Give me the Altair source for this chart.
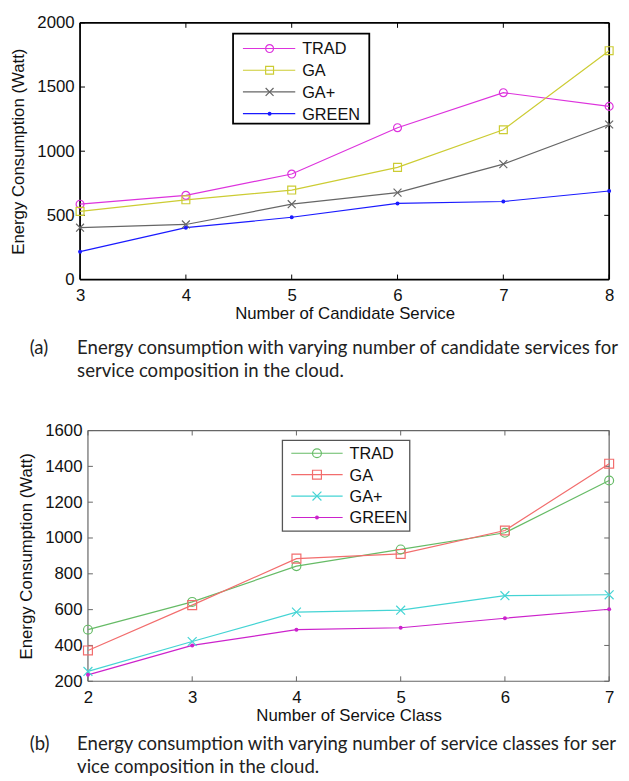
import altair as alt
import pandas as pd

series = ["TRAD", "GA", "GA+", "GREEN"]

# Panel (a): energy vs number of candidate services
a_x = [3, 4, 5, 6, 7, 8]
a_trad = [587, 656, 822, 1183, 1456, 1349]
a_ga = [531, 621, 697, 874, 1167, 1783]
a_gap = [404, 429, 587, 677, 899, 1208]
a_green = [217, 404, 485, 593, 608, 690]
a_yticks = [0, 500, 1000, 1500, 2000]

# Panel (b): energy vs number of service classes
b_x = [2, 3, 4, 5, 6, 7]
b_trad = [488, 643, 843, 936, 1029, 1321]
b_ga = [372, 625, 885, 911, 1042, 1415]
b_gap = [255, 422, 586, 597, 678, 683]
b_green = [236, 400, 488, 499, 552, 602]
b_yticks = [200, 400, 600, 800, 1000, 1200, 1400, 1600]

a_caption = ["Energy consumption with varying number of candidate services for",
             "service composition in the cloud."]
b_caption = ["Energy consumption with varying number of service classes for ser",
             "vice composition in the cloud."]

XPATH = "M-1,-1L1,1M-1,1L1,-1"
AXFONT = "Liberation Sans"
CAPFONT = "Lato"
AXSIZE = 17
CAPSIZE = 18.8


def one():
    return pd.DataFrame({"k": [0]})


def panel(xs, ys, colors, frame, fw, xdom, ydom, yticks, W, H, x0, xtitle,
          leg, tag, caption, cap, msize, lpad):
    rows = []
    for s, vals in zip(series, ys):
        for x, v in zip(xs, vals):
            rows.append({"series": s, "x": x, "y": v})
    df = pd.DataFrame(rows)

    X = alt.X("x:Q", scale=alt.Scale(domain=xdom, nice=False, zero=False, range=[x0, W]),
              axis=alt.Axis(values=xs, title=xtitle, format="d", labelFlush=False,
                            labelPadding=lpad, titlePadding=2))
    Y = alt.Y("y:Q", scale=alt.Scale(domain=ydom, nice=False, zero=False),
              axis=alt.Axis(values=yticks, title="Energy Consumption (Watt)",
                            format="d", labelPadding=6, labelFlush=False, offset=-x0,
                            titleX=-62, titleY=H / 2, titleAngle=270,
                            titleBaseline="middle", titleAlign="center"))
    color = alt.Color("series:N", scale=alt.Scale(domain=series, range=colors),
                      legend=None)

    layers = []
    # frame
    fr = dict(color=frame, strokeWidth=fw)
    layers.append(alt.Chart(one()).mark_rule(**fr).encode(
        x=alt.value(x0), x2=alt.value(W), y=alt.value(0)))
    layers.append(alt.Chart(one()).mark_rule(**fr).encode(
        x=alt.value(x0), x2=alt.value(W), y=alt.value(H)))
    layers.append(alt.Chart(one()).mark_rule(**fr).encode(
        x=alt.value(x0), y=alt.value(0), y2=alt.value(H)))
    layers.append(alt.Chart(one()).mark_rule(**fr).encode(
        x=alt.value(W), y=alt.value(0), y2=alt.value(H)))

    # inward ticks
    tx = pd.DataFrame({"x": xs})
    ty = pd.DataFrame({"y": yticks})
    layers.append(alt.Chart(tx).mark_rule(color=frame, strokeWidth=1).encode(
        x=X, y=alt.value(H), y2=alt.value(H - 5)))
    layers.append(alt.Chart(tx).mark_rule(color=frame, strokeWidth=1).encode(
        x=X, y=alt.value(0), y2=alt.value(5)))
    layers.append(alt.Chart(ty).mark_rule(color=frame, strokeWidth=1).encode(
        y=Y, x=alt.value(x0), x2=alt.value(x0 + 5)))
    layers.append(alt.Chart(ty).mark_rule(color=frame, strokeWidth=1).encode(
        y=Y, x=alt.value(W), x2=alt.value(W - 5)))

    # data
    layers.append(alt.Chart(df).mark_line(strokeWidth=1.2).encode(
        x=X, y=Y, color=color, detail="series:N"))
    layers.append(alt.Chart(df).transform_filter(alt.datum.series != "GREEN")
                  .mark_point(filled=False, strokeWidth=1.2, size=msize, opacity=1)
                  .encode(x=X, y=Y, color=color,
                          shape=alt.Shape("series:N",
                                          scale=alt.Scale(domain=["TRAD", "GA", "GA+"],
                                                          range=["circle", "square", XPATH]),
                                          legend=None)))
    layers.append(alt.Chart(df).transform_filter(alt.datum.series == "GREEN")
                  .mark_point(filled=True, size=16, shape="circle", opacity=1)
                  .encode(x=X, y=Y, color=color))

    # legend box
    bx1, bx2, by1, by2, ly0, ldy, lx1, lx2, mx, tx0, bstroke, bw = leg
    layers.append(alt.Chart(one()).mark_rect(fill="white", stroke=bstroke,
                                             strokeWidth=bw).encode(
        x=alt.value(bx1), x2=alt.value(bx2), y=alt.value(by1), y2=alt.value(by2)))
    shapes = ["circle", "square", XPATH, "circle"]
    for i, s in enumerate(series):
        yy = ly0 + i * ldy
        layers.append(alt.Chart(one()).mark_rule(strokeWidth=1.2, color=colors[i]).encode(
            x=alt.value(lx1), x2=alt.value(lx2), y=alt.value(yy)))
        if s == "GREEN":
            layers.append(alt.Chart(one()).mark_point(filled=True, size=16, shape="circle",
                                                      color=colors[i], opacity=1).encode(
                x=alt.value(mx), y=alt.value(yy)))
        else:
            layers.append(alt.Chart(one()).mark_point(filled=False, size=msize,
                                                      shape=shapes[i], strokeWidth=1.2,
                                                      color=colors[i], opacity=1).encode(
                x=alt.value(mx), y=alt.value(yy)))
        layers.append(alt.Chart(one()).mark_text(align="left", baseline="middle",
                                                 font=AXFONT, fontSize=16.5,
                                                 color="#111").encode(
            x=alt.value(tx0), y=alt.value(yy + 1), text=alt.value(s)))

    # caption
    tagx, capx, cy1, cy2, lim = cap
    layers.append(alt.Chart(one()).mark_text(align="left", baseline="alphabetic",
                                             font=CAPFONT, fontSize=CAPSIZE,
                                             color="#222").encode(
        x=alt.value(tagx), y=alt.value(cy1), text=alt.value(tag)))
    for cyy, line in zip([cy1, cy2], caption):
        layers.append(alt.Chart(one()).mark_text(align="left", baseline="alphabetic",
                                                 font=CAPFONT, fontSize=CAPSIZE,
                                                 color="#222", limit=lim,
                                                 ellipsis=" ").encode(
            x=alt.value(capx), y=alt.value(cyy), text=alt.value(line)))

    return alt.layer(*layers).properties(
        width=W, height=H, view=alt.ViewBackground(stroke="transparent"))


pa = panel(a_x, [a_trad, a_ga, a_gap, a_green],
           ["#dd33dd", "#cccc33", "#666666", "#1a1aff"], "#000000", 1.8,
           [3, 8], [0, 2000], a_yticks, 536, 260, 0, "Number of Candidate Service",
           (155, 293, 11, 102, 26, 22, 165, 218, 192, 225, "#000000", 1.8),
           "(a)", a_caption, (-51, -3, 335, 359, 550), 64, 8)

pb = panel(b_x, [b_trad, b_ga, b_gap, b_green],
           ["#66bb66", "#f26d6d", "#44d4d4", "#cc22cc"], "#666666", 1.2,
           [2, 7], [200, 1600], b_yticks, 536, 254, 8, "Number of Service Class",
           (205, 334, 10, 102, 23, 21.7, 214, 266, 240, 273, "#555555", 1.3),
           "(b)", b_caption, (-51, -3, 324, 347, 550), 81, 9)

chart = alt.concat(pa, pb, columns=1, spacing=39).resolve_scale(
    color="independent", shape="independent", x="independent", y="independent"
).properties(
    padding={"left": 1, "top": 0, "right": 0, "bottom": 0},
).configure_axis(
    labelFont=AXFONT, titleFont=AXFONT, labelFontSize=AXSIZE, titleFontSize=AXSIZE,
    titleFontWeight="normal", grid=False, ticks=False, domain=False,
    labelColor="#111", titleColor="#111",
).configure_view(stroke="transparent")

chart.save("out.html", embed_options={"renderer": "svg", "actions": False})
